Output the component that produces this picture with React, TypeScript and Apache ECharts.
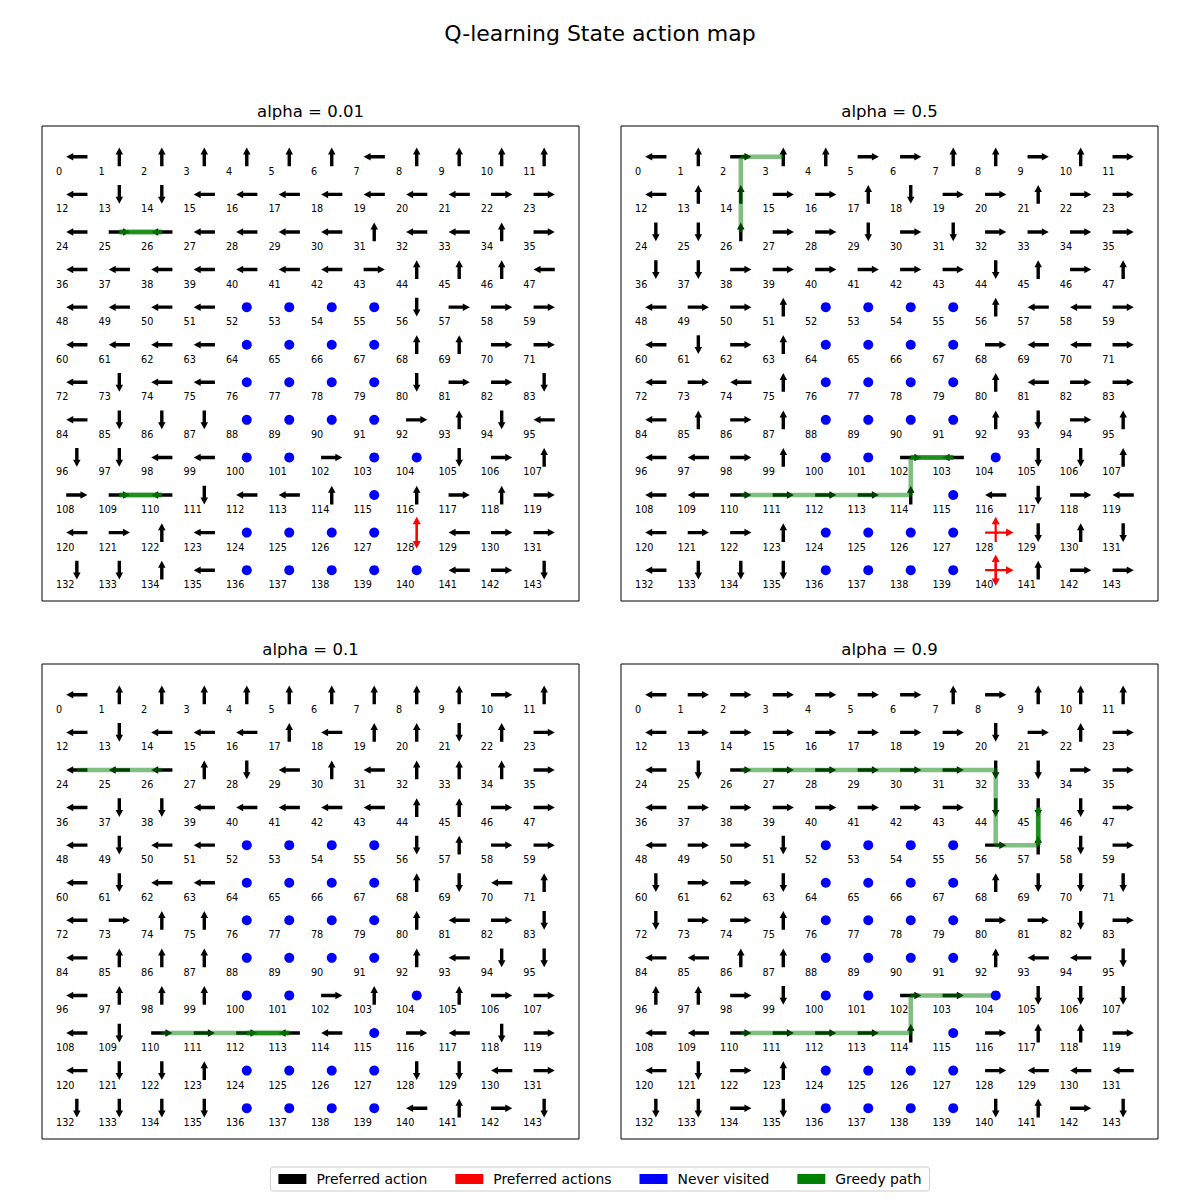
import React, { useEffect, useRef } from "react";
import * as echarts from "echarts";

// ---------- data ----------
const N = 12;
const TITLES = ["alpha = 0.01", "alpha = 0.5", "alpha = 0.1", "alpha = 0.9"];
const LEGEND_NAMES = ["Preferred action", "Preferred actions", "Never visited", "Greedy path"];

// U/D/L/R = preferred action, o = never visited, M = several preferred actions
const ACTIONS_A001 = [
  "LUUUUUULUUUU",
  "LDDLLLLLLLRR",
  "LRLLLLLULLUR",
  "LLLLLLLRUUUL",
  "LLLLooooDRRR",
  "LLLLooooUURR",
  "LDLLooooDRRD",
  "LDDDooooRUDL",
  "DDLLooRooDRU",
  "RRLDLLUoURUR",
  "LRULooooMLRR",
  "DDULoooooLRD",
];
const ACTIONS_A05 = [
  "LURUURRUURUR",
  "LUURRUDRRURR",
  "DDURRDRDRRRR",
  "DDRRRRRRDURU",
  "LRRUooooULLR",
  "LDRUooooRLLR",
  "LRLUooooULRR",
  "LURUooooUDRU",
  "LLRUooRLoDDU",
  "LLRRRRUoLDRL",
  "LRRUooooMDUD",
  "LDDDooooMURR",
];
const ACTIONS_A01 = [
  "LUUUUUUUUURU",
  "LDLLLULUUDUR",
  "LLLUDLULUUUR",
  "LDDLLLLLUURR",
  "LDLLooooDURR",
  "LDLLooooUDLU",
  "LRUUooooULRD",
  "LUUUooooULDD",
  "LUUUooRUoURR",
  "LDRRRLLoRLDR",
  "LDDUooooDDLR",
  "DDDDooooLURD",
];
const ACTIONS_A09 = [
  "LRRRRRRURUUU",
  "LRRRRRRRDRUR",
  "LDRRRRRRDDRR",
  "LRRRRRRRDDDR",
  "LRRDooooRUDR",
  "DRRDooooUDDD",
  "DRRUooooRRDR",
  "LLUUooooULLD",
  "UURDooRRoDDD",
  "LLRRRRUoRUUR",
  "LDRUooooRLLL",
  "DDRDooooDURD",
];

// states with several preferred actions
const MULTI_A001: [number, string][] = [[128, "UD"]];
const MULTI_A05: [number, string][] = [[128, "UR"], [140, "UDR"]];
const MULTI_A01: [number, string][] = [];
const MULTI_A09: [number, string][] = [];

// greedy paths (state sequences)
const PATHS_A001 = [[26, 25, 26, 25], [110, 109, 110, 109]];
const PATHS_A05 = [[26, 14, 2, 3], [110, 111, 112, 113, 114, 102, 103, 102, 103]];
const PATHS_A01 = [[26, 25, 24], [110, 111, 112, 113, 112, 113]];
const PATHS_A09 = [
  [26, 27, 28, 29, 30, 31, 32, 44, 56, 57, 45, 57, 45],
  [110, 111, 112, 113, 114, 102, 103, 104],
];

const PANEL_ACTIONS = [ACTIONS_A001, ACTIONS_A05, ACTIONS_A01, ACTIONS_A09];
const PANEL_MULTI = [MULTI_A001, MULTI_A05, MULTI_A01, MULTI_A09];
const PANEL_PATHS = [PATHS_A001, PATHS_A05, PATHS_A01, PATHS_A09];

// ---------- layout / style ----------
const PANEL_POS = [
  { left: 42, top: 126 },
  { left: 621, top: 126 },
  { left: 42, top: 664 },
  { left: 621, top: 664 },
];
const PANEL_W = 537;
const PANEL_H = 475;
const AX_MIN = -0.82;
const AX_MAX = 11.82;
const FONT = '"DejaVu Sans", "Liberation Sans", sans-serif';
const DIR_KEYS = "UDLR";
const DIR_VEC: [number, number][] = [[0, -1], [0, 1], [-1, 0], [1, 0]];

function arrowPoly(p0: number[], p1: number[], shaftW: number, headW: number, headL: number) {
  const dx = p1[0] - p0[0];
  const dy = p1[1] - p0[1];
  const len = Math.hypot(dx, dy) || 1;
  const ux = dx / len, uy = dy / len;
  const nx = -uy, ny = ux;
  const bx = p1[0] - ux * headL, by = p1[1] - uy * headL;
  const s = shaftW / 2, h = headW / 2;
  return [
    [p0[0] + nx * s, p0[1] + ny * s],
    [bx + nx * s, by + ny * s],
    [bx + nx * h, by + ny * h],
    [p1[0], p1[1]],
    [bx - nx * h, by - ny * h],
    [bx - nx * s, by - ny * s],
    [p0[0] - nx * s, p0[1] - ny * s],
  ];
}

function makeArrowRender(tailF: number, headF: number, shaftW: number, headW: number, headL: number, color: string) {
  return (params: any, api: any) => {
    const c = api.value(0) as number;
    const r = api.value(1) as number;
    const d = DIR_VEC[api.value(2) as number];
    const p0 = api.coord([c - tailF * d[0], r - tailF * d[1]]);
    const p1 = api.coord([c + headF * d[0], r + headF * d[1]]);
    return {
      type: "polygon",
      shape: { points: arrowPoly(p0, p1, shaftW, headW, headL) },
      style: { fill: color, stroke: null },
    };
  };
}

function buildOption() {
  const grid: any[] = [];
  const xAxis: any[] = [];
  const yAxis: any[] = [];
  const series: any[] = [];
  const graphic: any[] = [
    {
      type: "text",
      x: 600,
      y: 33,
      style: {
        text: "Q-learning State action map",
        font: `22px ${FONT}`,
        fill: "#000",
        textAlign: "center",
        textVerticalAlign: "middle",
      },
    },
  ];

  for (let p = 0; p < 4; p++) {
    const pos = PANEL_POS[p];
    grid.push({
      left: pos.left,
      top: pos.top,
      width: PANEL_W,
      height: PANEL_H,
      show: true,
      borderColor: "#000",
      borderWidth: 1,
      backgroundColor: "#fff",
    });
    xAxis.push({ type: "value", gridIndex: p, min: AX_MIN, max: AX_MAX, show: false });
    yAxis.push({ type: "value", gridIndex: p, min: AX_MIN, max: AX_MAX, inverse: true, show: false });
    graphic.push({
      type: "text",
      x: pos.left + PANEL_W / 2,
      y: pos.top - 15,
      style: {
        text: TITLES[p],
        font: `16.5px ${FONT}`,
        fill: "#000",
        textAlign: "center",
        textVerticalAlign: "middle",
      },
    });

    const actions = PANEL_ACTIONS[p];
    const labels: number[][] = [];
    const arrows: number[][] = [];
    const dots: number[][] = [];
    const red: number[][] = [];
    for (let r = 0; r < N; r++) {
      for (let c = 0; c < N; c++) {
        const s = r * N + c;
        labels.push([c, r, s]);
        const ch = actions[r][c];
        const k = DIR_KEYS.indexOf(ch);
        if (k >= 0) arrows.push([c, r, k]);
        else if (ch === "o") dots.push([c, r]);
      }
    }
    for (const [s, dirs] of PANEL_MULTI[p]) {
      const c = s % N, r = Math.floor(s / N);
      for (const ch of dirs) red.push([c, r, DIR_KEYS.indexOf(ch)]);
    }
    const segs: number[][] = [];
    for (const path of PANEL_PATHS[p]) {
      for (let i = 0; i + 1 < path.length; i++) {
        const a = path[i], b = path[i + 1];
        segs.push([a % N, Math.floor(a / N), b % N, Math.floor(b / N)]);
      }
    }

    series.push({
      type: "custom",
      name: "labels",
      xAxisIndex: p,
      yAxisIndex: p,
      silent: true,
      data: labels,
      renderItem: (params: any, api: any) => {
        const pt = api.coord([(api.value(0) as number) - 0.49, (api.value(1) as number) + 0.385]);
        return {
          type: "text",
          x: pt[0],
          y: pt[1],
          style: {
            text: String(api.value(2)),
            font: `9.7px ${FONT}`,
            fill: "#000",
            textAlign: "left",
            textVerticalAlign: "middle",
          },
        };
      },
    });
    series.push({
      type: "custom",
      name: "Preferred action",
      xAxisIndex: p,
      yAxisIndex: p,
      silent: true,
      itemStyle: { color: "#000000", opacity: 1 },
      data: arrows,
      renderItem: makeArrowRender(0.25, 0.25, 3.4, 7.5, 7, "#000000"),
    });
    series.push({
      type: "custom",
      name: "Preferred actions",
      xAxisIndex: p,
      yAxisIndex: p,
      silent: true,
      itemStyle: { color: "#ff0000", opacity: 1 },
      data: red,
      renderItem: makeArrowRender(0.25, 0.42, 2.2, 8, 7.5, "#ff0000"),
    });
    series.push({
      type: "custom",
      name: "Greedy path",
      xAxisIndex: p,
      yAxisIndex: p,
      silent: true,
      itemStyle: { color: "#008000", opacity: 1 },
      encode: { x: [0, 2], y: [1, 3] },
      data: segs,
      renderItem: (params: any, api: any) => {
        const a = api.coord([api.value(0), api.value(1)]);
        const b = api.coord([api.value(2), api.value(3)]);
        return {
          type: "line",
          shape: { x1: a[0], y1: a[1], x2: b[0], y2: b[1] },
          style: { stroke: "#008000", lineWidth: 4.5, opacity: 0.5, lineCap: "butt" },
        };
      },
    });
    series.push({
      type: "scatter",
      name: "Never visited",
      xAxisIndex: p,
      yAxisIndex: p,
      silent: true,
      symbol: "circle",
      symbolSize: 10,
      itemStyle: { color: "#0000ff", opacity: 1 },
      emphasis: { disabled: true },
      data: dots,
    });
  }

  return {
    animation: false,
    backgroundColor: "#ffffff",
    grid,
    xAxis,
    yAxis,
    series,
    graphic,
    legend: {
      data: LEGEND_NAMES,
      left: "center",
      top: 1167,
      icon: "rect",
      itemWidth: 28,
      itemHeight: 10,
      itemGap: 28,
      padding: [5, 8],
      borderColor: "#cccccc",
      borderWidth: 1,
      borderRadius: 3,
      selectedMode: false,
      itemStyle: { opacity: 1 },
      textStyle: { fontSize: 13.9, fontFamily: FONT, color: "#000", padding: [0, 0, 0, 5] },
    },
  };
}

export default function App() {
  const ref = useRef<HTMLDivElement>(null);
  useEffect(() => {
    if (!ref.current) return;
    const chart = echarts.init(ref.current, undefined, { renderer: "svg" });
    chart.setOption(buildOption() as any);
    return () => chart.dispose();
  }, []);
  return (
    <div
      ref={ref}
      style={{ position: "absolute", left: 0, top: 0, width: 1200, height: 1200, background: "#fff" }}
    />
  );
}
